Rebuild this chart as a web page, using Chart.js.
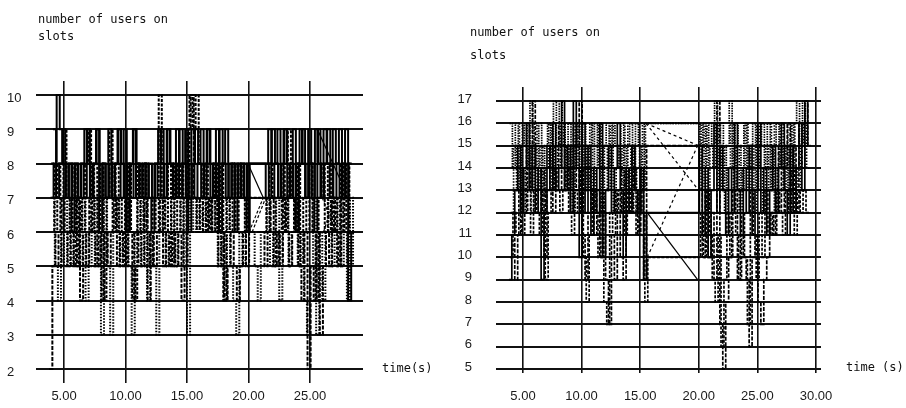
<!DOCTYPE html>
<html>
<head>
<meta charset="utf-8">
<script src="https://cdn.jsdelivr.net/npm/chart.js@4.4.1/dist/chart.umd.min.js"></script>
<style>
    body { margin: 0; background: #fff; width: 906px; height: 408px; overflow: hidden; position: relative; }
    .panel { position: absolute; top: 0; width: 453px; height: 408px; }
    .note { position: absolute; font: 12px "DejaVu Sans Mono", monospace; color: #111; white-space: nowrap; }
</style>
</head>
<body>
<div class="panel" style="left:0"><canvas id="leftChart" width="453" height="408"></canvas></div>
<div class="panel" style="left:453px"><canvas id="rightChart" width="453" height="408"></canvas></div>
<div class="note" style="left:38px; top:11px; line-height:17px">number of users on<br>slots</div>
<div class="note" style="left:470px; top:21px; line-height:23px">number of users on<br>slots</div>
<div class="note" style="left:382px; top:359px; line-height:18px">time(s)</div>
<div class="note" style="left:846px; top:358px; line-height:18px">time (s)</div>
<script>
// samples every quarter second
const sampleStep = 0.25;

// axis ticks
const leftXTicks = [5, 10, 15, 20, 25];
const leftYTicks = [2, 3, 4, 5, 6, 7, 8, 9, 10];
const rightXTicks = [5, 10, 15, 20, 25, 30];
const rightYTicks = [5, 6, 7, 8, 9, 10, 11, 12, 13, 14, 15, 16, 17];

// left plot: users on slots (first sample times 3.90, 3.95, 4.00, 4.10, 3.80)
const leftUsersA = [
    7, 8, 10, 9, 8, 7, 8, 7, 8, 7,
    8, 9, 8, 7, 8, 9, 7, 8, 7, 8,
    7, 8, 9, 8, 7, 8, 7, 9, 8, 7,
    8, 7, 8, 7, 8, 9, 8, 7, 9, 8,
    7, 8, 9, 7, 8, 7, 8, 9, 8, 7,
    8, 9, 7, 8, 7, 9, 8, 7, 8, 7,
    8, 7, 8, 7, 8, 8, 8, 8, 8, 8,
    7, 8, 9, 8, 7, 8, 9, 7, 8, 7,
    8, 9, 8, 7, 8, 7, 9, 8, 7, 8,
    9, 8, 7, 8, 7, 8, 7, 8, 8];
const leftUsersB = [
    8, 6, 8, 6, 9, 7, 6, 8, 5, 7,
    6, 8, 9, 6, 8, 5, 8, 4, 7, 9,
    6, 8, 6, 7, 5, 8, 6, 4, 8, 6,
    8, 6, 5, 7, 6, 10, 7, 6, 8, 5,
    8, 6, 8, 5, 7, 10, 9, 10, 8, 7,
    8, 6, 7, 8, 6, 8, 4, 7, 6, 8,
    6, 8, 7, 6, 7, 7, 7, 7, 7, 7,
    6, 8, 7, 5, 6, 8, 6, 9, 7, 6,
    8, 5, 7, 6, 8, 6, 4, 7, 8, 6,
    8, 6, 7, 5, 8, 6, 8, 6, 6];
const leftUsersC = [
    7, 5, 4, 6, 5, 7, 5, 6, 7, 5,
    7, 4, 6, 5, 7, 6, 3, 7, 5, 3,
    6, 7, 5, 6, 7, 5, 3, 6, 7, 5,
    7, 4, 6, 5, 3, 6, 7, 5, 6, 7,
    5, 6, 7, 5, 3, 7, 6, 7, 6, 7,
    6, 7, 6, 7, 5, 6, 4, 7, 5, 4,
    3, 6, 5, 7, 6, 6, 5, 4, 6, 6,
    7, 5, 6, 7, 4, 6, 7, 5, 6, 7,
    5, 6, 4, 3, 5, 7, 3, 6, 4, 6,
    7, 5, 6, 7, 5, 6, 4, 7, 5];
const leftUsersD = [
    9, 7, 8, 9, 7, 8, 6, 8, 7, 8,
    7, 9, 7, 8, 9, 6, 8, 7, 9, 7,
    8, 9, 7, 9, 6, 8, 9, 7, 8, 7,
    8, 7, 6, 8, 7, 9, 7, 9, 8, 7,
    9, 7, 8, 9, 6, 9, 7, 8, 9, 7,
    9, 8, 7, 9, 6, 8, 9, 7, 8, 6,
    8, 7, 8, 6, 8, 8, 8, 8, 8, 8,
    9, 7, 8, 9, 7, 9, 8, 7, 9, 6,
    8, 9, 7, 9, 8, 6, 9, 7, 9, 8,
    7, 9, 8, 9, 7, 9, 4, 6, 6];
const leftUsersE = [
    2, 5, 6, 5, 7, 6, 5, 6, 5, 7,
    4, 6, 5, 7, 6, 5, 6, 4, 6, 5,
    6, 7, 5, 6, 5, 7, 6, 4, 5, 6,
    5, 7, 4, 6, 5, 6, 7, 5, 6, 5,
    6, 5, 6, 4, 5, 9, 10, 7, 6, 7,
    6, 7, 6, 7, 6, 5, 6, 4, 5, 6,
    5, 4, 5, 6, 5, 6, 6, 6, 6, 6,
    5, 6, 7, 5, 6, 5, 7, 6, 5, 6,
    7, 5, 4, 6, 2, 5, 4, 6, 3, 5,
    6, 5, 7, 6, 5, 7, 6, 5, 5];
// left plot: long jumps across gaps [time, users]
const leftJumpSolid1 = [[19.95, 8], [21.2, 7]];
const leftJumpSolid2 = [[25.6, 9], [27.5, 7.5]];
const leftJumpDash1 = [[20.05, 6], [21.2, 7]];
const leftJumpDash2 = [[20.3, 6], [21.4, 7]];
const leftJumpDash3 = [[26.0, 7], [27.1, 6]];
const leftJumpDash4 = [[26.1, 6], [27.0, 7]];

// right plot: users on slots (first sample times 3.80, 3.85, 3.90, 3.95, 4.05)
const rightUsersP = [
    9, 11, 13, 15, 12, 14, 16, 13, 15, 12,
    14, 9, 12, 15, 13, 16, 13, 14, 17, 13,
    15, 12, 17, 14, 10, 16, 12, 15, 11, 14,
    12, 16, 10, 13, 15, 12, 14, 16, 13, 10,
    14, 12, 15, 13, 12, 14, 9, 12, 12, 12,
    12, 12, 12, 12, 12, 12, 12, 12, 12, 12,
    12, 12, 12, 12, 12, 15, 11, 14, 10, 13,
    16, 12, 15, 13, 11, 14, 12, 16, 13, 11,
    14, 12, 15, 11, 13, 16, 12, 14, 11, 13,
    15, 12, 14, 16, 13, 11, 15, 12, 14, 16,
    13, 17, 15];
const rightUsersQ = [
    16, 14, 16, 13, 15, 16, 14, 17, 15, 14,
    16, 13, 15, 16, 14, 17, 15, 17, 16, 14,
    16, 13, 15, 16, 14, 16, 13, 15, 16, 14,
    16, 13, 15, 16, 14, 16, 15, 14, 16, 13,
    15, 16, 14, 16, 15, 13, 16, 16, 16, 16,
    16, 16, 16, 16, 16, 16, 16, 16, 16, 16,
    16, 16, 16, 16, 16, 15, 16, 14, 16, 15,
    17, 14, 16, 13, 15, 17, 14, 16, 15, 13,
    16, 14, 15, 16, 13, 15, 16, 14, 16, 13,
    15, 16, 14, 15, 13, 16, 14, 16, 17, 15,
    17, 16, 16];
const rightUsersR = [
    10, 12, 11, 13, 11, 12, 14, 11, 13, 12,
    11, 13, 9, 12, 13, 14, 13, 12, 13, 14,
    12, 11, 13, 12, 14, 10, 8, 11, 13, 12,
    10, 13, 8, 7, 12, 11, 13, 12, 14, 11,
    13, 12, 14, 11, 13, 12, 8, 10, 10, 10,
    10, 10, 10, 10, 10, 10, 10, 10, 10, 10,
    10, 10, 10, 10, 10, 12, 10, 13, 11, 9,
    8, 11, 6, 9, 12, 10, 13, 11, 9, 12,
    10, 7, 13, 11, 9, 12, 10, 13, 11, 12,
    11, 13, 12, 11, 13, 12, 14, 11, 13, 12,
    13, 12, 12];
const rightUsersS = [
    12, 15, 13, 16, 12, 14, 15, 12, 16, 13,
    15, 12, 14, 16, 13, 15, 14, 16, 15, 13,
    15, 12, 16, 14, 12, 15, 13, 16, 12, 14,
    16, 12, 15, 13, 16, 12, 14, 15, 12, 16,
    13, 15, 12, 14, 16, 13, 16, 16, 16, 16,
    16, 16, 16, 16, 16, 16, 16, 16, 16, 16,
    16, 16, 16, 16, 16, 13, 16, 12, 15, 14,
    16, 13, 15, 12, 14, 16, 13, 15, 12, 14,
    16, 13, 15, 12, 16, 14, 12, 15, 13, 16,
    12, 14, 16, 13, 15, 12, 16, 14, 13, 15,
    16, 14, 14];
const rightUsersT = [
    11, 9, 11, 14, 12, 16, 13, 17, 14, 12,
    14, 10, 13, 15, 12, 14, 16, 13, 15, 14,
    12, 16, 13, 17, 11, 9, 12, 14, 11, 13,
    10, 12, 9, 7, 11, 9, 13, 10, 9, 14,
    12, 15, 13, 11, 14, 9, 15, 15, 15, 15,
    15, 15, 15, 15, 15, 15, 15, 15, 15, 15,
    15, 15, 15, 15, 15, 10, 13, 10, 12, 9,
    17, 7, 5, 8, 10, 12, 14, 9, 11, 10,
    9, 6, 10, 11, 8, 7, 9, 10, 12, 11,
    13, 15, 12, 14, 16, 13, 15, 12, 16, 14,
    17, 15, 15];
// right plot: long jumps across the 15-20 s gap [time, users]
const rightJumpDash1 = [[15.5, 16], [20.0, 15]];
const rightJumpDash2 = [[15.5, 16], [20.0, 13]];
const rightJumpDash3 = [[15.6, 10], [19.9, 15]];
const rightJumpSolid = [[15.6, 12], [19.9, 9]];

// stepped trace from evenly spaced samples
function stepTrace(values, start, dash, width) {
    return {
        data: values.map((v, i) => ({ x: start + i * sampleStep, y: v })),
        stepped: 'before',
        borderColor: '#000',
        borderWidth: width,
        borderDash: dash,
        pointRadius: 0,
        fill: false
    };
}

// straight segment between two samples
function jumpTrace(pairs, dash) {
    return {
        data: pairs.map(p => ({ x: p[0], y: p[1] })),
        borderColor: '#000',
        borderWidth: 1.2,
        borderDash: dash,
        pointRadius: 0,
        fill: false
    };
}

const tickFont = { family: '"Liberation Sans", Arial, sans-serif', size: 13 };

function buildOptions(cfg) {
    return {
        responsive: false,
        animation: false,
        layout: { padding: cfg.padding },
        plugins: { legend: { display: false }, tooltip: { enabled: false } },
        scales: {
            x: {
                type: 'linear',
                min: cfg.xMin,
                max: cfg.xMax,
                afterBuildTicks: axis => { axis.ticks = cfg.xTicks.map(v => ({ value: v })); },
                afterFit: axis => { axis.height = cfg.xHeight; },
                grid: { color: '#111', lineWidth: 1.6, drawTicks: false },
                border: { display: false },
                ticks: {
                    color: '#1a1a1a', font: tickFont, padding: cfg.xPad,
                    maxRotation: 0, autoSkip: false,
                    callback: v => Number(v).toFixed(2)
                }
            },
            y: {
                type: 'linear',
                min: cfg.yMin,
                max: cfg.yMax,
                afterBuildTicks: axis => { axis.ticks = cfg.yTicks.map(v => ({ value: v })); },
                afterFit: axis => { axis.width = cfg.yWidth; },
                grid: { color: '#111', lineWidth: 1.9, drawTicks: false },
                border: { display: false },
                ticks: {
                    color: '#1a1a1a', font: tickFont, padding: cfg.yPad,
                    crossAlign: cfg.yAlign, labelOffset: cfg.yOffset, autoSkip: false,
                    callback: v => String(v)
                }
            }
        }
    };
}

new Chart(document.getElementById('leftChart'), {
    type: 'line',
    data: {
        datasets: [
            stepTrace(leftUsersA, 3.90, [], 2),
            stepTrace(leftUsersB, 3.95, [3, 1.5], 2),
            stepTrace(leftUsersC, 4.00, [1.5, 1.5], 2),
            stepTrace(leftUsersD, 4.10, [], 2),
            stepTrace(leftUsersE, 3.80, [4, 1.5], 2),
            jumpTrace(leftJumpSolid1, []),
            jumpTrace(leftJumpSolid2, []),
            jumpTrace(leftJumpDash1, [3, 2]),
            jumpTrace(leftJumpDash2, [3, 2]),
            jumpTrace(leftJumpDash3, [3, 2]),
            jumpTrace(leftJumpDash4, [3, 2])
        ]
    },
    options: buildOptions({
        padding: { left: 7, right: 90, top: 81, bottom: 0 },
        xMin: 2.72, xMax: 29.31, yMin: 1.59, yMax: 10.41,
        xTicks: leftXTicks, yTicks: leftYTicks,
        xHeight: 25, yWidth: 29, xPad: 6, yPad: 6,
        yAlign: 'far', yOffset: 3
    })
});

new Chart(document.getElementById('rightChart'), {
    type: 'line',
    data: {
        datasets: [
            stepTrace(rightUsersP, 3.80, [], 1.7),
            stepTrace(rightUsersQ, 3.85, [1.5, 1], 1.7),
            stepTrace(rightUsersR, 3.90, [3, 1.5], 1.7),
            stepTrace(rightUsersS, 3.95, [1.5, 1.5], 1.7),
            stepTrace(rightUsersT, 4.05, [4, 1.5], 1.7),
            jumpTrace(rightJumpDash1, [3, 3]),
            jumpTrace(rightJumpDash2, [3, 3]),
            jumpTrace(rightJumpDash3, [3, 3]),
            jumpTrace(rightJumpSolid, [])
        ]
    },
    options: buildOptions({
        padding: { left: 0, right: 85, top: 87, bottom: 0 },
        xMin: 2.70, xMax: 30.43, yMin: 4.82, yMax: 17.63,
        xTicks: rightXTicks, yTicks: rightYTicks,
        xHeight: 35, yWidth: 43, xPad: 16, yPad: 24,
        yAlign: 'near', yOffset: -2
    })
});
</script>
</body>
</html>
